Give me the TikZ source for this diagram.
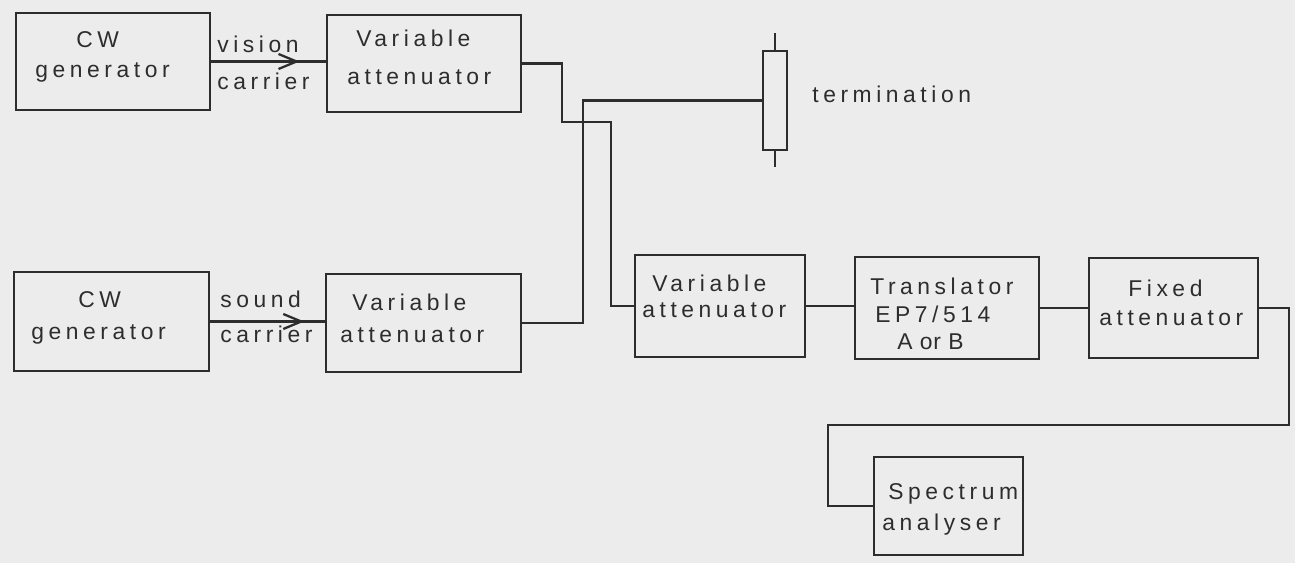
\documentclass[tikz,border=0pt]{standalone}
\usepackage{fontspec}
\setmainfont{Liberation Sans}[LetterSpace=20]
\usetikzlibrary{arrows.meta,decorations.markings}
\definecolor{ink}{RGB}{45,45,45}
\definecolor{paper}{RGB}{236,236,236}
\begin{document}
\begin{tikzpicture}[x=0.02cm,y=-0.02cm,
  txt/.style={font=\fontsize{13}{16}\selectfont,text=ink},
  blk/.style={draw=ink,line width=1.3pt,inner sep=0pt},
  ln/.style={txt,inner sep=0pt,anchor=base west},
  wire/.style={draw=ink,line width=1.3pt},
  arrowat/.style={postaction={decorate},decoration={markings,mark=at position #1 with {\arrow{Straight Barb[length=3.6mm,width=3mm,line width=1.3pt]}}}}
]
\fill[paper] (0,0) rectangle (1295,563);
\useasboundingbox (0,0) rectangle (1295,563);

% blocks
\node[blk,minimum width=3.88cm,minimum height=1.94cm] (A) at (113,61.5) {};
\node[blk,minimum width=3.88cm,minimum height=1.94cm] (B) at (424,63.5) {};
\node[blk,minimum width=3.90cm,minimum height=1.98cm] (C) at (111.5,321.5) {};
\node[blk,minimum width=3.90cm,minimum height=1.96cm] (D) at (423.5,323) {};
\node[blk,minimum width=3.40cm,minimum height=2.04cm] (E) at (720,306) {};
\node[blk,minimum width=3.68cm,minimum height=2.04cm] (F) at (947,308) {};
\node[blk,minimum width=3.38cm,minimum height=2.00cm] (G) at (1173.5,308) {};
\node[blk,minimum width=2.98cm,minimum height=1.96cm] (H) at (948.5,506) {};
\node[blk,minimum width=0.48cm,minimum height=1.98cm] (T) at (775,100.5) {};

% block texts
\node[ln] (A1) at (76,48) {CW};
\node[ln] (A2) at (35,78) {generator};
\node[ln] (B1) at (356,47) {Variable};
\node[ln] (B2) at (347,85) {attenuator};
\node[ln] (C1) at (78,308) {CW};
\node[ln] (C2) at (31,340) {generator};
\node[ln] (D1) at (352,311) {Variable};
\node[ln] (D2) at (340,343) {attenuator};
\node[ln] (E1) at (652,292) {Variable};
\node[ln] (E2) at (642,318) {attenuator};
\node[ln] (F1) at (870,295) {Translator};
\node[ln] (F2) at (875,323) {EP7/514};
\node[ln,font=\fontsize{13}{16}\selectfont\addfontfeature{LetterSpace=4}] (F3) at (897,350) {A or B};
\node[ln] (G1) at (1128,297) {Fixed};
\node[ln] (G2) at (1099,326) {attenuator};
\node[ln] (H1) at (888,500) {Spectrum};
\node[ln] (H2) at (882,531) {analyser};

% connector labels
\node[ln] (vis) at (217,53) {vision};
\node[ln] (car1) at (217,90) {carrier};
\node[ln] (snd) at (220,308) {sound};
\node[ln] (car2) at (220,343) {carrier};
\node[ln] (term) at (812,103) {termination};

% junction coordinates
\coordinate (b1) at (562,63.5);
\coordinate (b2) at (611,122);
\coordinate (d1) at (583,100.5);
\coordinate (g1) at (1289,425);
\coordinate (g2) at (828,425);
\coordinate (tt) at (775,33);
\coordinate (tb) at (775,167);

% connectors
\draw[wire,arrowat=0.77] (A.east) -- (A.east -| B.west);
\draw[wire,arrowat=0.82] (C.east) -- (C.east -| D.west);
\draw[wire] (B.east) -- (b1) |- (b2) |- (E.west);
\draw[wire] (D.east) -| (d1) -- (T.west);
\draw[wire] (T.north) -- (tt);
\draw[wire] (T.south) -- (tb);
\draw[wire] (E.east) -- (E.east -| F.west);
\draw[wire] (F.east) -- (F.east -| G.west);
\draw[wire] (G.east) -| (g1) -- (g2) |- (H.west);
\end{tikzpicture}
\end{document}
